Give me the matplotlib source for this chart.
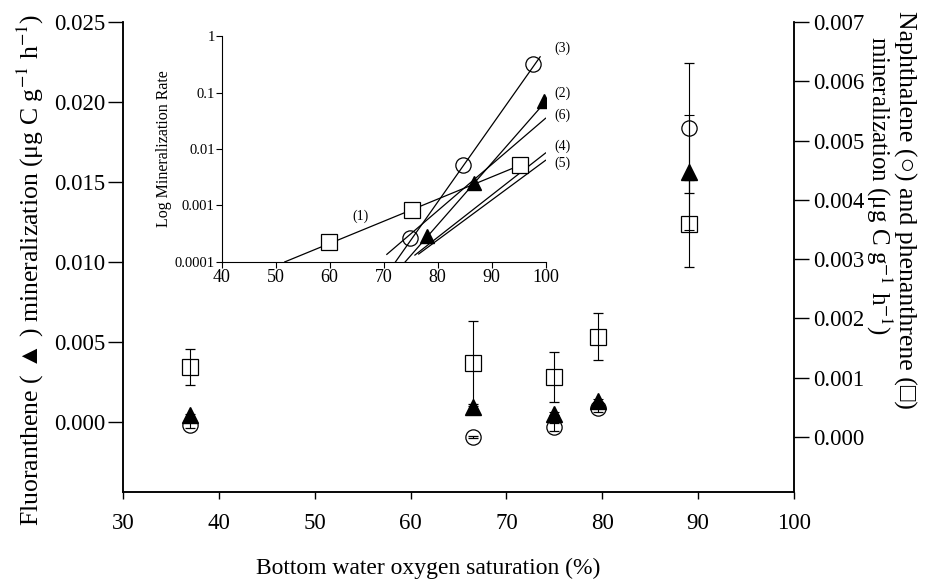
import numpy as np
import matplotlib
matplotlib.use("Agg")
import matplotlib.pyplot as plt
from matplotlib.ticker import NullLocator

plt.rcParams['font.family'] = ['Liberation Serif', 'DejaVu Serif']
plt.rcParams['mathtext.fontset'] = 'stix'

# main panel data
oxygen = [37, 66.5, 75, 79.5, 89]
fluoranthene = [0.0004, 0.0009, 0.0005, 0.0013, 0.0156]
fluoranthene_err = [0.0001, 0.0001, 0.0001, 0.0001, 0.0036]
naphthalene = [0.0002, 0.0, 0.00017, 0.00049, 0.00521]
naphthalene_err = [0.00005, 0.00002, 0.00007, 0.00007, 0.0011]
phenanthrene = [0.00118, 0.00125, 0.00101, 0.00169, 0.0036]
phenanthrene_err = [0.0003, 0.0007, 0.00042, 0.0004, 0.00074]

# inset data
inset_sq_x = [59.8, 75.2, 95.2]
inset_sq_y = [2.25e-4, 8.2e-4, 5.15e-3]
inset_ci_x = [74.9, 84.7, 97.7]
inset_ci_y = [2.7e-4, 5.15e-3, 0.32]
inset_tr_x = [78.0, 86.7, 99.7]
inset_tr_y = [2.9e-4, 2.45e-3, 0.071]

# regression lines in the inset (end points)
line_ids = ['(1)', '(2)', '(3)', '(4)', '(5)', '(6)']
line_x0 = [51.7, 74.0, 72.2, 75.8, 76.5, 70.6]
line_y0 = [1e-4, 1e-4, 1e-4, 1.32e-4, 1.38e-4, 1.36e-4]
line_x1 = [96.6, 100, 99.0, 100, 100, 100]
line_y1 = [5.8e-3, 0.069, 0.43, 8.5e-3, 6.3e-3, 0.035]
label_x = [65.7, 103.1, 103.1, 103.1, 103.1, 103.1]
label_y = [6.5e-4, 0.098, 0.61, 0.0112, 0.0056, 0.04]

W, H = 939, 582
fig = plt.figure(figsize=(W / 100, H / 100), dpi=100)
ax = fig.add_axes([0.131, 0.1546, 0.7146, 0.8074])
ax2 = ax.twinx()

ax.errorbar(oxygen, fluoranthene, yerr=fluoranthene_err, fmt='^', color='black',
            ms=11, elinewidth=0.8, capsize=3.5, capthick=0.8)
ax2.errorbar(oxygen, naphthalene, yerr=naphthalene_err, fmt='o', mfc='none', mec='black',
             color='black', ms=11, mew=0.9, elinewidth=0.8, capsize=3.5, capthick=0.8)
ax2.errorbar(oxygen, phenanthrene, yerr=phenanthrene_err, fmt='s', mfc='none', mec='black',
             color='black', ms=11, mew=0.9, elinewidth=0.8, capsize=3.5, capthick=0.8)

ax.set_xlim(30, 100)
ax.set_ylim(-0.00441, 0.025)
ax2.set_ylim(-0.00093, 0.007)
ax.set_xticks(np.arange(30, 101, 10))
ax.set_yticks(np.arange(0, 0.0251, 0.005))
ax2.set_yticks(np.arange(0, 0.00701, 0.001))
ax.set_yticklabels(['%.3f' % v for v in np.arange(0, 0.0251, 0.005)])
ax2.set_yticklabels(['%.3f' % v for v in np.arange(0, 0.00701, 0.001)])

for a in (ax, ax2):
    a.spines['top'].set_visible(False)
    for s in a.spines.values():
        s.set_linewidth(1.1)
ax.tick_params(axis='y', direction='out', length=11, width=1, labelsize=16.5, pad=2)
ax.tick_params(axis='x', direction='out', length=5, width=1, labelsize=16.5, pad=10)
ax2.tick_params(axis='y', direction='out', length=11, width=1, labelsize=16.5, pad=3)

# axis titles placed by pixel position
fig.text(428 / W, 1 - 568 / H, 'Bottom water oxygen saturation (%)', fontsize=17,
         ha='center', va='center')
fig.text(30 / W, 1 - 270 / H,
         'Fluoranthene ( \u25B2 ) mineralization (\u03BCg C g$^{-1}$ h$^{-1}$)',
         fontsize=18.5, rotation=90, ha='center', va='center', rotation_mode='anchor')
fig.text(905 / W, 1 - 210 / H, 'Naphthalene (\u25CB) and phenanthrene (\u25A1)',
         fontsize=18.5, rotation=270, ha='center', va='center', rotation_mode='anchor')
fig.text(879 / W, 1 - 185 / H, 'mineralization (\u03BCg C g$^{-1}$ h$^{-1}$)',
         fontsize=18, rotation=270, ha='center', va='center', rotation_mode='anchor')

# inset
ins = fig.add_axes([0.236, 0.550, 0.345, 0.388])
for x0, y0, x1, y1 in zip(line_x0, line_y0, line_x1, line_y1):
    ins.plot([x0, x1], [y0, y1], color='black', lw=0.9)
ins.plot(inset_sq_x, inset_sq_y, 's', mfc='white', mec='black', ms=11, mew=0.9)
ins.plot(inset_ci_x, inset_ci_y, 'o', mfc='none', mec='black', ms=11, mew=0.9)
ins.plot(inset_tr_x, inset_tr_y, '^', color='black', ms=10)
for lab, lx, ly in zip(line_ids, label_x, label_y):
    ins.text(lx, ly, lab, fontsize=10, ha='center', va='center', clip_on=False)

ins.set_yscale('log')
ins.set_xlim(40, 100)
ins.set_ylim(1e-4, 1)
ins.set_xticks(np.arange(40, 101, 10))
ins.set_yticks([1e-4, 1e-3, 1e-2, 1e-1, 1])
ins.set_yticklabels(['0.0001', '0.001', '0.01', '0.1', '1'])
ins.yaxis.set_minor_locator(NullLocator())
ins.spines['top'].set_visible(False)
ins.spines['right'].set_visible(False)
ins.patch.set_alpha(0)
ins.tick_params(axis='y', direction='out', length=4, labelsize=10.5, pad=1)
ins.tick_params(axis='x', direction='out', length=4, labelsize=13, pad=1)
ins.set_ylabel('Log Mineralization Rate', fontsize=11.5, labelpad=2)

fig.savefig('out.png', dpi=100)
